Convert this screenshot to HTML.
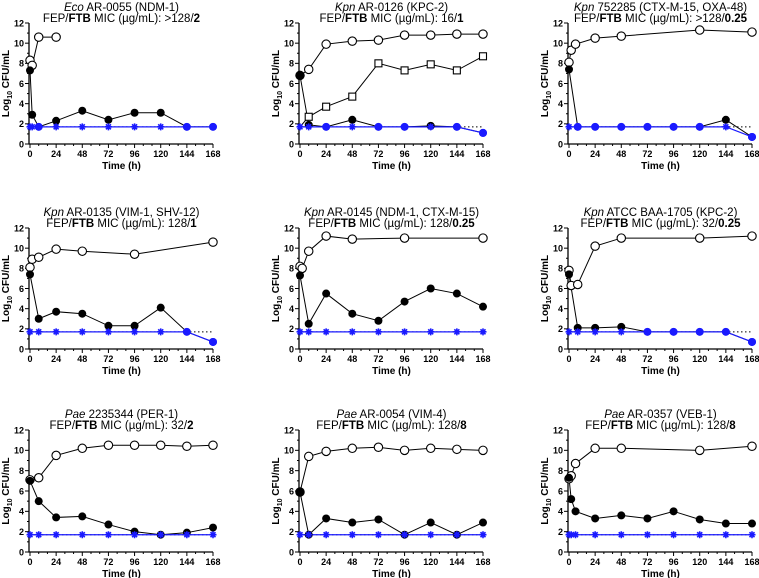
<!DOCTYPE html>
<html><head><meta charset="utf-8"><style>
body{margin:0;background:#fff;}
svg{display:block;font-family:"Liberation Sans",Arial,sans-serif;}
.tk{font-size:9px;font-weight:bold;fill:#000;}
.ttl{font-size:11.5px;fill:#000;}
.axl{font-size:10px;font-weight:bold;fill:#000;}
</style></head><body>
<svg id="c" width="759" height="578" viewBox="0 0 759 578"></svg>
<script>
const titles1 = ["Eco","Kpn","Kpn","Kpn","Kpn","Kpn","Pae","Pae","Pae"];
const titles2 = [" AR-0055 (NDM-1)"," AR-0126 (KPC-2)"," 752285 (CTX-M-15, OXA-48)"," AR-0135 (VIM-1, SHV-12)"," AR-0145 (NDM-1, CTX-M-15)"," ATCC BAA-1705 (KPC-2)"," 2235344 (PER-1)"," AR-0054 (VIM-4)"," AR-0357 (VEB-1)"];
const micA = [">128/","16/",">128/","128/","128/","32/","32/","128/","128/"];
const micB = ["2","1","0.25","1","0.25","0.25","2","8","8"];
const xTicks = [0,24,48,72,96,120,144,168];
const yTicks = [0,2,4,6,8,10,12];
const LOD = 1.7;
const openT = [[0,2,8,24],[0,8,24,48,72,96,120,144,168],[0,2,6,24,48,120,168],[0,2,8,24,48,96,168],[0,2,8,24,48,96,168],[0,2,8,24,48,120,168],[0,8,24,48,72,96,120,144,168],[0,8,24,48,72,96,120,144,168],[0,2,6,24,48,120,168]];
const openV = [[8.3,7.8,10.6,10.6],[6.8,7.4,9.9,10.2,10.3,10.8,10.8,10.9,10.9],[8.1,9.3,9.9,10.5,10.7,11.3,11.1],[8.1,8.9,9.1,9.9,9.7,9.4,10.6],[8.2,8.0,9.7,11.2,10.9,11.0,11.0],[7.8,6.3,6.4,10.2,11.0,11.0,11.2],[7.1,7.3,9.5,10.2,10.5,10.5,10.5,10.4,10.5],[5.9,9.4,9.9,10.2,10.3,10.0,10.2,10.1,10.0],[7.2,7.5,8.7,10.2,10.2,10.0,10.4]];
const fillT = [[0,2,8,24,48,72,96,120,144,168],[0,8,24,48,72,96,120,144,168],[0,8,24,48,72,96,120,144,168],[0,8,24,48,72,96,120,144,168],[0,8,24,48,72,96,120,144,168],[0,8,24,48,72,96,120,144,168],[0,8,24,48,72,96,120,144,168],[0,8,24,48,72,96,120,144,168],[0,2,6,24,48,72,96,120,144,168]];
const fillV = [[7.3,2.9,1.7,2.3,3.3,2.4,3.1,3.1,1.7,1.7],[6.8,1.9,1.7,2.4,1.7,1.7,1.8,1.7,1.1],[7.4,1.7,1.7,1.7,1.7,1.7,1.7,2.4,0.7],[7.4,3.0,3.7,3.5,2.3,2.3,4.1,1.7,0.7],[7.3,2.5,5.5,3.5,2.8,4.7,6.0,5.5,4.2],[7.4,2.1,2.1,2.2,1.7,1.7,1.7,1.7,0.7],[7.0,5.0,3.4,3.5,2.7,2.0,1.7,1.9,2.4],[5.9,1.7,3.3,2.9,3.2,1.7,2.9,1.7,2.9],[7.3,5.2,4.0,3.3,3.6,3.3,4.0,3.2,2.8,2.8]];
const blueV = [[1.7,1.7,1.7,1.7,1.7,1.7,1.7,1.7,1.7,1.7],[1.7,1.7,1.7,1.7,1.7,1.7,1.7,1.7,1.1],[1.7,1.7,1.7,1.7,1.7,1.7,1.7,1.7,0.7],[1.7,1.7,1.7,1.7,1.7,1.7,1.7,1.7,0.7],[1.7,1.7,1.7,1.7,1.7,1.7,1.7,1.7,1.7],[1.7,1.7,1.7,1.7,1.7,1.7,1.7,1.7,0.7],[1.7,1.7,1.7,1.7,1.7,1.7,1.7,1.7,1.7],[1.7,1.7,1.7,1.7,1.7,1.7,1.7,1.7,1.7],[1.7,1.7,1.7,1.7,1.7,1.7,1.7,1.7,1.7,1.7]];
const sqT = [8,24,48,72,96,120,144,168];
const sqV = [2.7,3.7,4.7,8.0,7.3,7.9,7.3,8.7];
const lodBlue = [true,true,true,true,true,true,false,false,false];

const colX0=[30,300,569], colX1=[213,483,752];
const rowY12=[23,228,430], rowY0=[144,349,552];
const NS="http://www.w3.org/2000/svg";
const svg=document.getElementById('c');
function mk(tag,attrs,parent){const e=document.createElementNS(NS,tag);for(const k in attrs)e.setAttribute(k,attrs[k]);(parent||svg).appendChild(e);return e;}

for(let p=0;p<9;p++){
  const c=p%3,r=Math.floor(p/3);
  const x0=colX0[c],x1=colX1[c],y0=rowY0[r],y12=rowY12[r];
  const sx=t=>x0+(x1-x0)*t/168, sy=v=>y0-(y0-y12)*v/12;
  const g=mk('g',{});
  
  
  const cx=(x0+x1)/2;
  const t1=mk('text',{x:cx,y:y12-12,'text-anchor':'middle',class:'ttl'},g);
  
  
  const it=mk('tspan',{'font-style':'italic'},t1);it.textContent=titles1[p];
  const rt=mk('tspan',{},t1);rt.textContent=titles2[p];
  const t2=mk('text',{x:cx,y:y12-1,'text-anchor':'middle',class:'ttl'},g);
  
  
  let s=mk('tspan',{},t2);s.textContent='FEP/';
  s=mk('tspan',{'font-weight':'bold'},t2);s.textContent='FTB';
  s=mk('tspan',{},t2);s.textContent=' MIC (µg/mL): '+micA[p];
  s=mk('tspan',{'font-weight':'bold'},t2);s.textContent=micB[p];
  const ax=mk('path',{d:`M${x0-1},${y12}V${y0}H${x1}`,stroke:'#000','stroke-width':1.3,fill:'none'},g);
  
  
  for(let v=0;v<=12;v++){mk('line',{x1:x0-1-(v%2?2:4),x2:x0-1,y1:sy(v),y2:sy(v),stroke:'#000','stroke-width':1},g);}
  for(let t=0;t<=168;t+=8){mk('line',{x1:sx(t),x2:sx(t),y1:y0,y2:y0+(t%24?2:4),stroke:'#000','stroke-width':1},g);}
  yTicks.forEach(v=>{const e=mk('text',{x:x0-6,y:sy(v)+3.3,'text-anchor':'end',class:'tk'},g);e.textContent=v;
    
    });
  xTicks.forEach(t=>{const e=mk('text',{x:sx(t),y:y0+13,'text-anchor':'middle',class:'tk'},g);e.textContent=t;
    
    });
  const xl=mk('text',{x:cx,y:y0+25,'text-anchor':'middle',class:'axl'},g);xl.textContent='Time (h)';
  
  
  const ly=(y0+y12)/2, lx=x0-21;
  const yl=mk('text',{x:lx,y:ly,'text-anchor':'middle',class:'axl',transform:`rotate(-90 ${lx} ${ly})`},g);
  
  
  s=mk('tspan',{},yl);s.textContent='Log';
  s=mk('tspan',{'font-size':'7px',dy:3},yl);s.textContent='10';
  s=mk('tspan',{dy:-3},yl);s.textContent=' CFU/mL';
  const ld=mk('line',{x1:sx(0),x2:sx(168),y1:sy(LOD),y2:sy(LOD),stroke:'#000','stroke-width':1,'stroke-dasharray':'1.5,2.5'},g);
  
  
  const line=(T,V,col,w)=>mk('polyline',{points:T.map((t,i)=>sx(t)+','+sy(V[i])).join(' '),stroke:col,'stroke-width':w,fill:'none'},g);
  let l=line(openT[p],openV[p],'#000',1);
  
  
  if(p===1){l=line([0].concat(sqT),[LOD].concat(sqV),'#000',1);
    
    }
  l=line(fillT[p],fillV[p],'#000',1);
  
  
  l=line(fillT[p],blueV[p],'#1a1aff',1.2);
  
  
  openT[p].forEach((t,i)=>{const m=mk('circle',{cx:sx(t),cy:sy(openV[p][i]),r:4.2,fill:'#fff',stroke:'#000','stroke-width':1.1},g);
    
    });
  if(p===1)sqT.forEach((t,i)=>{const m=mk('rect',{x:sx(t)-3.5,y:sy(sqV[i])-3.5,width:7,height:7,fill:'#fff',stroke:'#000','stroke-width':1.1},g);
    
    });
  fillT[p].forEach((t,i)=>{const v=fillV[p][i];const blue=lodBlue[p]&&v<=LOD&&blueV[p][i]<=LOD;
    const m=mk('circle',{cx:sx(t),cy:sy(v),r:4,fill:blue?'#1a1aff':'#000'},g);
    
    });
  fillT[p].forEach((t,i)=>{const v=blueV[p][i];const X=sx(t),Y=sy(v);
    if(v<LOD){const m=mk('circle',{cx:X,cy:Y,r:4,fill:'#1a1aff'},g);
      
      }
    else{const m=mk('path',{d:`M${X-3.5},${Y}H${X+3.5}M${X},${Y-3.5}V${Y+3.5}M${X-2.5},${Y-2.5}L${X+2.5},${Y+2.5}M${X-2.5},${Y+2.5}L${X+2.5},${Y-2.5}`,stroke:'#1a1aff','stroke-width':1.6},g);
      
      }});
}
</script>
</body></html>
